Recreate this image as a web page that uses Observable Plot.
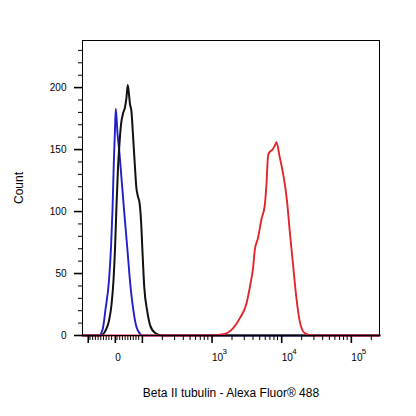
<!DOCTYPE html>
<html><head><meta charset="utf-8">
<script src="https://cdn.jsdelivr.net/npm/d3@7"></script>
<script src="https://cdn.jsdelivr.net/npm/@observablehq/plot@0.6"></script>
<style>body{margin:0;background:#fff}</style>
</head><body><div id="chart"></div>
<script>
// Blue histogram (control)
const blueX = [-117, -57, -43, -32, -19.5, -12, -6.6, -1.8, 1.8, 5.5, 11.8, 19.1, 25.4, 34.9, 47.4, 59.6, 70.6, 81.6, 96.3, 103, 262144];
const blueCount = [0, 0, 5, 22, 45, 72, 102, 140, 162, 183, 163, 147, 130, 104, 72, 40, 20, 7, 1, 0, 0];
// Black histogram
const blackX = [-117, -50.7, -32.4, -19.5, -10.3, -2.9, 2.6, 8.1, 13.6, 19.1, 24.6, 32, 39.3, 44.9, 49.6, 54, 57.7, 63.2, 69.5, 75.4, 81.6, 86.4, 93.8, 98.9, 104, 110, 121, 134, 158, 200, 262144];
const blackCount = [0, 0, 4, 12, 25, 45, 70, 105, 135, 155, 170, 179, 184, 192, 202, 195, 187, 181, 160, 139, 119, 113, 106, 92, 66, 39, 20, 8, 2, 0, 0];
// Red histogram (Beta II tubulin)
const redX = [-117, 968, 1499, 2083, 2596, 3236, 3607, 4020, 4252, 4739, 5302, 5908, 6248, 6586, 6966, 7610, 8210, 8681, 9676, 10790, 12300, 13450, 14990, 16760, 18680, 22030, 28930, 262144];
const redCount = [0, 0, 1, 6, 14, 26, 39, 55, 69, 79, 94, 105, 122, 145, 148, 150, 153, 156, 144, 131, 109, 85, 58, 31, 12, 2, 0, 0];

const xMajorTicks = [-100, 0, 100, 1000, 10000, 100000];
const xMajorLabels = ["", "0", "", "10", "10", "10"];
const xExponents = ["", "", "", "3", "4", "5"];
const xMinorTicks = [-90, -80, -70, -60, -50, -40, -30, -20, -10, 10, 20, 30, 40, 50, 60, 70, 80, 90,
  200, 300, 400, 500, 600, 700, 800, 900, 2000, 3000, 4000, 5000, 6000, 7000, 8000, 9000,
  20000, 30000, 40000, 50000, 60000, 70000, 80000, 90000, 200000];
const yMajorTicks = [0, 50, 100, 150, 200];
const yMinorTicks = [10, 20, 30, 40, 60, 70, 80, 90, 110, 120, 130, 140, 160, 170, 180, 190, 210, 220, 230];
const xDomain = [-117, 262144];
const yDomain = [0, 238];
const xLabel = "Beta II tubulin - Alexa Fluor® 488";
const yLabel = "Count";

// linear near zero, logarithmic above |100| (biexponential-like display)
const LIN = 100, LINW = 27.2 / 70;
const biex = (v) => {
  const s = Math.sign(v), a = Math.abs(v);
  return s * (a <= LIN ? LINW * a / LIN : LINW + Math.log10(a / LIN));
};

const toRows = (xs, ys) => xs.map((x, i) => ({x, y: ys[i]}));
const blue = toRows(blueX, blueCount);
const black = toRows(blackX, blackCount);
const red = toRows(redX, redCount);

// axis tick positions expressed in the scale's transformed units
const xMajorT = xMajorTicks.map(biex);
const xMinorT = xMinorTicks.map(biex);

const chart = Plot.plot({
  width: 416,
  height: 416,
  marginTop: 40,
  marginBottom: 81,
  marginLeft: 82,
  marginRight: 37,
  style: {fontFamily: "'Liberation Sans', Arial, sans-serif", fontSize: "10px", background: "#fff"},
  x: {transform: biex, domain: xDomain.map(biex)},
  y: {domain: yDomain},
  marks: [
    Plot.line(blue, {x: "x", y: "y", stroke: "#1f1fcc", strokeWidth: 1.9, curve: "monotone-x"}),
    Plot.line(black, {x: "x", y: "y", stroke: "#111", strokeWidth: 2, curve: "monotone-x"}),
    Plot.line(red, {x: "x", y: "y", stroke: "#e3262b", strokeWidth: 1.9, curve: "monotone-x"}),
    Plot.frame({stroke: "#000", strokeWidth: 1}),
    Plot.axisY({ticks: yMinorTicks, tickSize: 4, tickFormat: () => "", label: null}),
    Plot.axisY({ticks: yMajorTicks, tickSize: 8, tickPadding: 8, strokeWidth: 1.6, fontSize: 10, label: null}),
    Plot.axisY({ticks: [], label: yLabel, labelAnchor: "center", labelArrow: "none", labelOffset: 68, fontSize: 12}),
    Plot.axisX({ticks: xMinorT, tickSize: 5, tickFormat: () => "", label: null}),
    Plot.axisX({ticks: xMajorT, tickSize: 8, tickPadding: 10, strokeWidth: 1.6, fontSize: 10,
      textAnchor: "start", dx: 1, tickFormat: (d) => xMajorLabels[xMajorT.indexOf(d)], label: null}),
    Plot.axisX({ticks: xMajorT, tickSize: 0, tickPadding: 14, fontSize: 8, stroke: "none",
      textAnchor: "start", dx: 11.5, dy: -1, tickFormat: (d) => xExponents[xMajorT.indexOf(d)], label: null}),
    Plot.axisX({ticks: [], label: xLabel, labelAnchor: "center", labelArrow: "none", labelOffset: 61, fontSize: 12})
  ]
});
document.getElementById("chart").appendChild(chart);
</script>
</body></html>
